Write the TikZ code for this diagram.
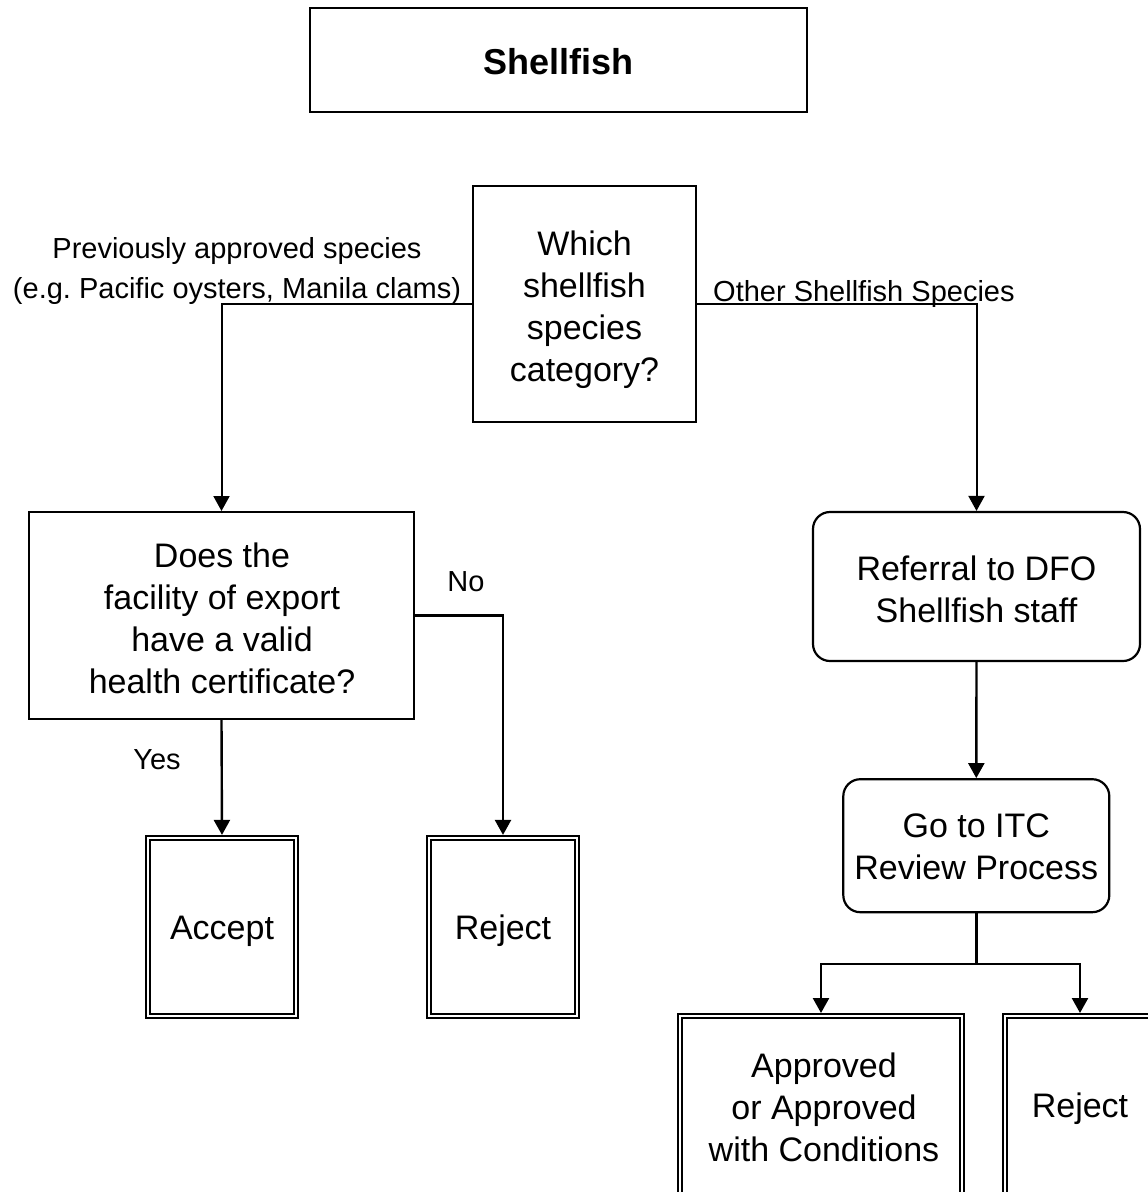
\documentclass[tikz,border=0pt]{standalone}
\usepackage{fontspec}
\setmainfont{Liberation Sans}
\usetikzlibrary{arrows.meta}
\frenchspacing
\begin{document}
\begin{tikzpicture}[x=1pt,y=-1pt,
  bigtext/.style={font=\fontsize{34}{42}\selectfont, align=center, inner sep=0pt},
  smalltext/.style={font=\fontsize{29}{40}\selectfont, align=center, inner sep=0pt},
  plainbox/.style={draw, line width=2pt, inner sep=0pt},
  roundbox/.style={plainbox, line width=2.2pt, rounded corners=17pt},
  endbox/.style={draw, line width=2.2pt, double, double distance=1.6pt, inner sep=0pt},
  conn/.style={line width=2.4pt},
  arr/.style={conn, -{Triangle[width=16pt,length=15pt]}}]
\useasboundingbox (0,0) rectangle (1148,1192);
\clip (0,0) rectangle (1148,1192);

% title
\node[plainbox, line width=2.2pt, minimum width=497pt, minimum height=104pt] (title) at (558.5,60) {};
\node[font=\fontsize{36}{40}\selectfont\bfseries, inner sep=0pt] (titletxt) at (558.5,62) {Shellfish};

% decision on species category
\node[plainbox, minimum width=223pt, minimum height=236pt] (which) at (584.5,304) {};
\node[bigtext] (whichtxt) at (584.5,310) {Which\\shellfish\\species\\category?};

% left branch
\node[plainbox, minimum width=385pt, minimum height=207pt] (does) at (221.5,615.5) {};
\node[bigtext] (doestxt) at (222,618.5)
  {Does the\\facility of export\\have a valid\\health certificate?};
\node[endbox, minimum width=148pt, minimum height=178pt] (accept) at (222,927) {};
\node[bigtext] (accepttxt) at (222,931) {Accept};
\node[endbox, minimum width=148pt, minimum height=178pt] (rejectL) at (503,927) {};
\node[bigtext] (rejectLtxt) at (503,931) {Reject};

% right branch
\node[roundbox, minimum width=327pt, minimum height=149pt] (referral) at (976.5,586.5) {};
\node[bigtext] (referraltxt) at (976.5,589.5) {Referral to DFO\\Shellfish staff};
\node[roundbox, minimum width=266pt, minimum height=133pt] (itc) at (976.3,845.7) {};
\node[bigtext] (itctxt) at (976.3,847) {Go to ITC\\Review Process};
\node[endbox, minimum width=282pt, minimum height=240pt, anchor=north] (approved) at (821,1015) {};
\node[bigtext] (approvedtxt) at (824,1107.5) {Approved\\or Approved\\with Conditions};
\node[endbox, minimum width=150pt, minimum height=240pt, anchor=north] (rejectR) at (1080,1015) {};
\node[bigtext] (rejectRtxt) at (1080,1109) {Reject};

% branch labels
\node[smalltext] (prevlbl) at (237,271)
  {Previously approved species\\(e.g. Pacific oysters, Manila clams)};
\node[smalltext, anchor=base west] (otherlbl) at (713,301) {Other Shellfish Species};
\node[smalltext] (nolbl) at (466,582) {No};
\node[smalltext] (yeslbl) at (157,760) {Yes};

% connectors
\draw[arr, line width=2pt] (which.west) -| (does.north);
\draw[arr, line width=2pt] (which.east) -| (referral.north);
\draw[arr, shorten >=2pt] (does.east) -| (rejectL.north);
\draw[arr, shorten >=2pt] (does.south) -- (accept.north);
\draw[arr] (referral.south) -- (itc.north);
\coordinate (split) at (itc.south |- 0,964);
\draw[conn] (itc.south) -- (split);
\draw[arr, shorten >=2pt] (split) -| (approved.north);
\draw[arr, shorten >=2pt] (split) -| (rejectR.north);
\end{tikzpicture}
\end{document}
